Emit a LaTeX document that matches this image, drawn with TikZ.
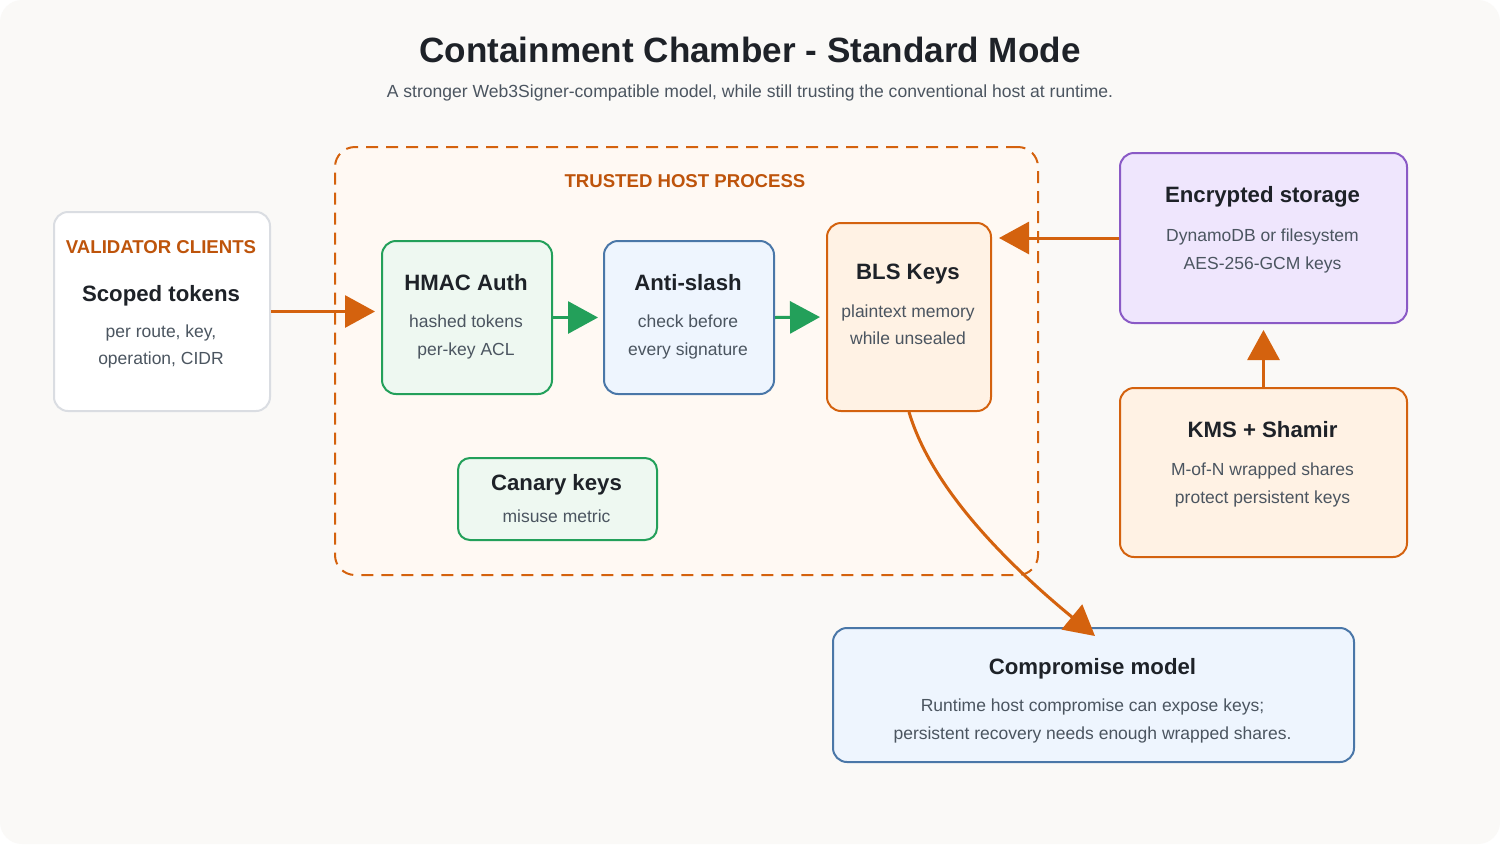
\documentclass[tikz,border=0pt]{standalone}
\usepackage{fontspec}
\setmainfont{Liberation Sans}
\usepackage{xcolor}
\usetikzlibrary{arrows.meta, calc}
\definecolor{canvas}{HTML}{FAF9F7}
\definecolor{inkdark}{HTML}{1E2228}
\definecolor{inkgray}{HTML}{4B5560}
\definecolor{rust}{HTML}{D4620E}
\definecolor{rusttext}{HTML}{BE540B}
\definecolor{rustfill}{HTML}{FFF2E4}
\definecolor{hostfill}{HTML}{FFF9F3}
\definecolor{leaf}{HTML}{23A05A}
\definecolor{leaffill}{HTML}{EEF8F1}
\definecolor{steel}{HTML}{4A77A8}
\definecolor{steelfill}{HTML}{EEF5FE}
\definecolor{plum}{HTML}{8A5AC6}
\definecolor{plumfill}{HTML}{EFE6FD}
\definecolor{mist}{HTML}{DADDE2}

\tikzset{
  card/.style={draw, line width=2pt, rounded corners=14pt, anchor=north west, inner sep=0pt},
  zone/.style={draw=rust, fill=hostfill, line width=2pt, dash pattern=on 12pt off 8pt,
    rounded corners=20pt, anchor=north west, inner sep=0pt},
  head/.style={anchor=base, text=inkdark, font=\fontsize{22.2}{26}\selectfont\bfseries},
  body/.style={anchor=base, text=inkgray, font=\fontsize{17.5}{21}\selectfont},
  caps/.style={anchor=base, text=rusttext, font=\fontsize{18.6}{22}\selectfont\bfseries},
  flow/.style={line width=3pt, -{Triangle[length=30pt,width=32pt]}},
}

\begin{document}
\begin{tikzpicture}[x=1pt,y=-1pt]
  % canvas
  \fill[white] (0,0) rectangle (1500,844);
  \fill[canvas, rounded corners=22pt] (0,0) rectangle (1500,844);

  \node[anchor=base, text=inkdark, font=\fontsize{35.1}{40}\selectfont\bfseries] (title) at (750,62)
    {Containment Chamber - Standard Mode};
  \node[anchor=base, text=inkgray, font=\fontsize{17.55}{21}\selectfont] (subtitle) at (750,97)
    {A stronger Web3Signer-compatible model, while still trusting the conventional host at runtime.};

  % trusted host
  \node[zone, minimum width=703pt, minimum height=428pt] (host) at (334,146) {};
  \node[caps] (hostlbl) at (685,187) {TRUSTED HOST PROCESS};

  % boxes
  \node[card, draw=mist, fill=white, minimum width=216pt, minimum height=199pt] (val) at (53,211) {};
  \node[card, draw=leaf, fill=leaffill, minimum width=170pt, minimum height=153pt] (hmac) at (381,240) {};
  \node[card, draw=steel, fill=steelfill, minimum width=170pt, minimum height=153pt] (anti) at (603,240) {};
  \node[card, draw=rust, fill=rustfill, minimum width=164pt, minimum height=188pt] (bls) at (826,222) {};
  \node[card, draw=plum, fill=plumfill, minimum width=287pt, minimum height=170pt] (enc) at (1119,152) {};
  \node[card, draw=rust, fill=rustfill, minimum width=287pt, minimum height=169pt] (kms) at (1119,387) {};
  \node[card, draw=leaf, fill=leaffill, rounded corners=12pt, minimum width=199pt, minimum height=82pt] (canary) at (457,457) {};
  \node[card, draw=steel, fill=steelfill, minimum width=521pt, minimum height=134pt] (comp) at (832,627) {};

  % texts
  \node[caps] (valcap) at (161,253) {VALIDATOR CLIENTS};
  \node[head] (valhd) at (161,301) {Scoped tokens};
  \node[body] (valb1) at (161,337) {per route, key,};
  \node[body] (valb2) at (161,364) {operation, CIDR};

  \node[head] (hmachd) at (466,290) {HMAC Auth};
  \node[body] (hmacb1) at (466,327) {hashed tokens};
  \node[body] (hmacb2) at (466,355) {per-key ACL};

  \node[head] (antihd) at (688,290) {Anti-slash};
  \node[body] (antib1) at (688,327) {check before};
  \node[body] (antib2) at (688,355) {every signature};

  \node[head] (blshd) at (908,279) {BLS Keys};
  \node[body] (blsb1) at (908,317) {plaintext memory};
  \node[body] (blsb2) at (908,344) {while unsealed};

  \node[head] (enchd) at (1262.5,202) {Encrypted storage};
  \node[body] (encb1) at (1262.5,241) {DynamoDB or filesystem};
  \node[body] (encb2) at (1262.5,269) {AES-256-GCM keys};

  \node[head] (kmshd) at (1262.5,437) {KMS + Shamir};
  \node[body] (kmsb1) at (1262.5,475) {M-of-N wrapped shares};
  \node[body] (kmsb2) at (1262.5,503) {protect persistent keys};

  \node[head] (canhd) at (556.5,490) {Canary keys};
  \node[body] (canb1) at (556.5,522) {misuse metric};

  \node[head] (comphd) at (1092.5,674) {Compromise model};
  \node[body] (compb1) at (1092.5,711) {Runtime host compromise can expose keys;};
  \node[body] (compb2) at (1092.5,739) {persistent recovery needs enough wrapped shares.};

  % connectors
  \draw[flow, rust, shorten >=6pt] (val.east) -- (val.east -| hmac.west);
  \draw[flow, leaf, shorten >=5pt] (hmac.east) -- (anti.west);
  \draw[flow, leaf, shorten >=6pt] (anti.east) -- (bls.west);
  \draw[flow, rust, shorten >=7pt] (enc.west) -- (enc.west -| bls.east);
  \draw[flow, rust, shorten >=6pt] (kms.north) -- (enc.south);
  \draw[flow, rust] (bls.south) .. controls (932,490) and (1010,566) .. ($(comp.north)+(1.5,9)$);
\end{tikzpicture}
\end{document}
